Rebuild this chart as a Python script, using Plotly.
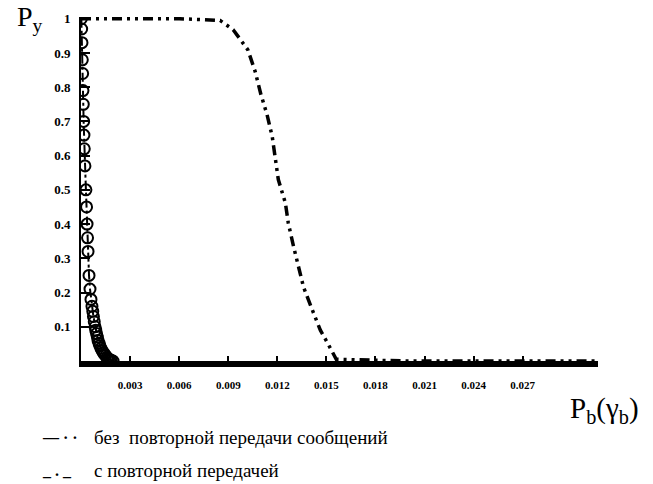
import plotly.graph_objects as go

# Curve without retransmission (dash-dot-dot)
x_without = [0.0, 0.003, 0.006, 0.0085, 0.0093, 0.0102, 0.01065, 0.011, 0.01137, 0.01169,
             0.01187, 0.01206, 0.01249, 0.01267, 0.013, 0.0133, 0.0136, 0.01414, 0.01463,
             0.0151, 0.0154, 0.0156, 0.02, 0.025, 0.0316]
y_without = [1.0, 1.0, 1.0, 0.995, 0.968, 0.909, 0.845, 0.778, 0.72, 0.655,
             0.59, 0.53, 0.462, 0.403, 0.333, 0.275, 0.216, 0.149, 0.09,
             0.05, 0.02, 0.005, 0.0, 0.0, 0.0]

# Curve with retransmission (circles)
x_with = [0.00002, 0.00004, 0.00006, 0.00008, 0.0001, 0.00012, 0.00014, 0.00016, 0.00018,
          0.0002, 0.00024, 0.0003, 0.00034, 0.00037, 0.0004, 0.00043, 0.00049, 0.00055,
          0.00061, 0.00067, 0.00072, 0.00076, 0.00081, 0.00086, 0.0009, 0.00095, 0.001,
          0.00104, 0.0011, 0.00115, 0.00122, 0.00129, 0.00136, 0.00143, 0.00151, 0.00159,
          0.00167, 0.00175, 0.00185, 0.00196]
y_with = [1.0, 0.97, 0.93, 0.88, 0.84, 0.79, 0.75, 0.70, 0.66, 0.62, 0.57, 0.5, 0.45,
          0.40, 0.36, 0.32, 0.25, 0.21, 0.18, 0.16, 0.145, 0.13, 0.115, 0.10, 0.09, 0.08,
          0.07, 0.06, 0.052, 0.045, 0.037, 0.03, 0.025, 0.02, 0.015, 0.01, 0.007, 0.004,
          0.002, 0.0]

x_ticks = [0.003, 0.006, 0.009, 0.012, 0.015, 0.018, 0.021, 0.024, 0.027]
x_ticklabels = ["0.003", "0.006", "0.009", "0.012", "0.015", "0.018", "0.021", "0.024", "0.027"]
y_ticks = [0.1, 0.2, 0.3, 0.4, 0.5, 0.6, 0.7, 0.8, 0.9, 1.0]
y_ticklabels = ["0.1", "0.2", "0.3", "0.4", "0.5", "0.6", "0.7", "0.8", "0.9", "1"]

legend_labels = ["без  повторной передачи сообщений", "с повторной передачей"]
legend_marks = ["<b>— · ·</b>", "<b>_ . _</b>"]

serif = "Liberation Serif"

fig = go.Figure()
fig.add_trace(go.Scatter(
    x=x_without, y=y_without, mode="lines",
    name=legend_labels[0],
    line=dict(color="black", width=3.5, dash="10px,5px,3px,5px,3px,5px"),
))
fig.add_trace(go.Scatter(
    x=x_with, y=y_with, mode="lines+markers",
    name=legend_labels[1],
    line=dict(color="black", width=2, dash="dashdot"),
    marker=dict(symbol="circle-open", size=11, color="black", line=dict(width=2, color="black")),
))

annotations = [
    dict(text="P<sub>y</sub>", xref="paper", yref="paper", x=-0.07, y=0.995,
         xanchor="right", yanchor="middle", showarrow=False,
         font=dict(family=serif, size=28, color="black")),
    dict(text="P<sub>b</sub>(γ<sub>b</sub>)", xref="paper", yref="paper",
         x=1.083, y=-0.142, xanchor="right", yanchor="middle", showarrow=False,
         font=dict(family=serif, size=29, color="black")),
]
legend_y = [-0.222, -0.318]
for mark, label, ly in zip(legend_marks, legend_labels, legend_y):
    annotations.append(dict(text=mark, xref="paper", yref="paper", x=-0.08, y=ly,
                            xanchor="left", yanchor="middle", showarrow=False,
                            font=dict(family=serif, size=16, color="black")))
    annotations.append(dict(text=label, xref="paper", yref="paper", x=0.022, y=ly,
                            xanchor="left", yanchor="middle", showarrow=False,
                            font=dict(family=serif, size=19, color="black")))

fig.update_layout(
    width=653, height=484,
    margin=dict(l=81, r=55, t=17, b=123),
    paper_bgcolor="white", plot_bgcolor="white",
    showlegend=False,
    xaxis=dict(
        range=[0, 0.0316], showgrid=False, zeroline=False, automargin=False,
        showline=True, linecolor="black", linewidth=6,
        tickmode="array", tickvals=x_ticks,
        ticktext=["<b>" + t + "</b>" for t in x_ticklabels], tickangle=0,
        ticks="inside", ticklen=5, tickwidth=1.5, tickcolor="black",
        tickfont=dict(family=serif, size=11, color="black"),
        ticklabelstandoff=9,
    ),
    yaxis=dict(
        range=[0, 1.005], showgrid=False, zeroline=False, automargin=False,
        showline=True, linecolor="black", linewidth=2,
        tickmode="array", tickvals=y_ticks,
        ticktext=["<b>" + t + "</b>" for t in y_ticklabels],
        ticks="inside", ticklen=9, tickwidth=1.5, tickcolor="black",
        tickfont=dict(family=serif, size=13, color="black"),
        ticklabelstandoff=6,
    ),
    annotations=annotations,
)

fig.write_html("out.html")
